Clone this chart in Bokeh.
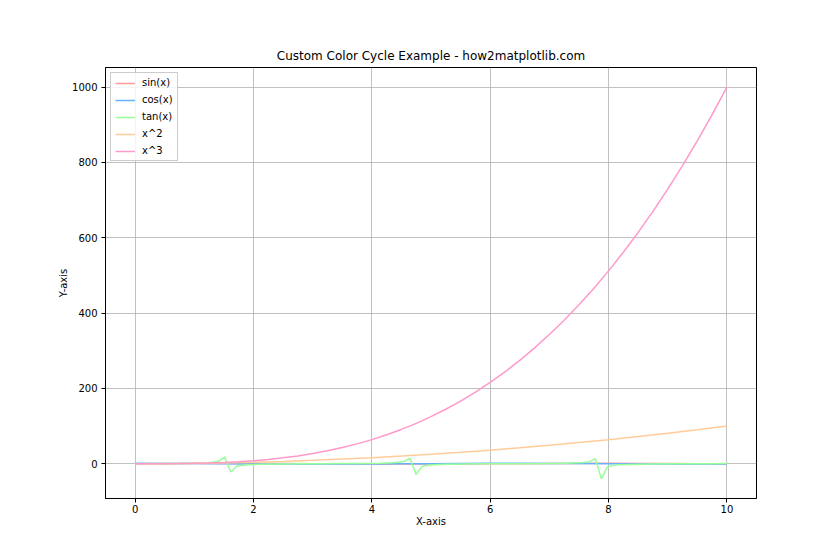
from bokeh.plotting import figure
from bokeh.models import Range1d, FixedTicker, Legend, LegendItem
from bokeh.embed import file_html
from bokeh.resources import INLINE

# ---- data ----
x_smooth = [0, 0.5, 1, 1.5, 2, 2.5, 3, 3.5, 4, 4.5, 5, 5.5, 6, 6.5, 7, 7.5, 8, 8.5, 9, 9.5, 10]
sin_vals = [0, 0.48, 0.84, 1.0, 0.91, 0.6, 0.14, -0.35, -0.76, -0.98, -0.96, -0.71, -0.28,
            0.22, 0.66, 0.94, 0.99, 0.80, 0.41, -0.08, -0.54]
cos_vals = [1, 0.88, 0.54, 0.07, -0.42, -0.80, -0.99, -0.94, -0.65, -0.21, 0.28, 0.71, 0.96,
            0.98, 0.75, 0.35, -0.15, -0.60, -0.91, -1.0, -0.84]
sq_vals = [0, 0.25, 1, 2.25, 4, 6.25, 9, 12.25, 16, 20.25, 25, 30.25, 36, 42.25, 49, 56.25,
           64, 72.25, 81, 90.25, 100]

x_cube = [0, 0.25, 0.5, 0.75, 1, 1.25, 1.5, 1.75, 2, 2.25, 2.5, 2.75, 3, 3.25, 3.5, 3.75,
          4, 4.25, 4.5, 4.75, 5, 5.25, 5.5, 5.75, 6, 6.25, 6.5, 6.75, 7, 7.25, 7.5, 7.75,
          8, 8.25, 8.5, 8.75, 9, 9.25, 9.5, 9.75, 10]
cube_vals = [0, 0.02, 0.125, 0.42, 1, 1.95, 3.375, 5.36, 8, 11.4, 15.6, 20.8, 27, 34.3,
             42.9, 52.7, 64, 76.8, 91.1, 107.2, 125, 144.7, 166.4, 190.1, 216, 244.1, 274.6,
             307.5, 343, 381.1, 421.9, 465.5, 512, 561.5, 614.1, 669.9, 729, 791.5, 857.4,
             926.9, 1000]

x_tan = [0, 0.303, 0.606, 0.909, 1.111, 1.212, 1.313, 1.414, 1.515, 1.616, 1.717, 1.818,
         1.919, 2.121, 2.424, 2.828, 3.131, 3.434, 3.838, 4.141, 4.343, 4.444, 4.545, 4.646,
         4.747, 4.848, 4.949, 5.051, 5.253, 5.556, 5.960, 6.263, 6.566, 6.970, 7.273, 7.475,
         7.576, 7.677, 7.778, 7.879, 7.980, 8.081, 8.182, 8.384, 8.687, 9.091, 9.394, 9.697, 10]
tan_vals = [0, 0.31, 0.70, 1.29, 2.0, 2.67, 3.79, 6.33, 17.97, -22.0, -6.78, -3.94,
            -2.75, -1.63, -0.87, -0.32, -0.01, 0.30, 0.84, 1.56, 2.58, 3.64, 5.94, 15.1,
            -28.5, -7.3, -4.13, -2.84, -1.66, -0.89, -0.34, -0.02, 0.29, 0.82, 1.53, 2.51,
            3.50, 5.59, 13.1, -40.3, -7.9, -4.31, -2.94, -1.70, -0.91, -0.35, -0.03, 0.28, 0.65]

labels = ["sin(x)", "cos(x)", "tan(x)", "x^2", "x^3"]
colors = ["#FF9999", "#66B2FF", "#99FF99", "#FFCC99", "#FF99CC"]
x_ticks = [0, 2, 4, 6, 8, 10]
y_ticks = [0, 200, 400, 600, 800, 1000]

FONT = "DejaVu Sans"

p = figure(width=824, height=544, output_backend="svg", toolbar_location=None,
           x_range=Range1d(-0.5, 10.5), y_range=Range1d(-92.3, 1052.0),
           title="Custom Color Cycle Example - how2matplotlib.com",
           min_border_left=105, min_border_right=68, min_border_top=67, min_border_bottom=46)
p.frame_width = 651
p.frame_height = 431

p.title.align = "center"
p.title.text_font = FONT
p.title.text_font_size = "12px"
p.title.text_font_style = "normal"
p.title.text_color = "black"

series = [(x_smooth, sin_vals), (x_smooth, cos_vals), (x_tan, tan_vals),
          (x_smooth, sq_vals), (x_cube, cube_vals)]
items = []
for (xs, ys), lab, col in zip(series, labels, colors):
    r = p.line(xs, ys, line_color=col, line_width=1.5)
    items.append(LegendItem(label=lab, renderers=[r]))

legend = Legend(items=items, location="top_left")
legend.label_text_font = FONT
legend.label_text_font_size = "10px"
legend.label_text_color = "black"
legend.glyph_width = 20
legend.glyph_height = 10
legend.label_height = 10
legend.spacing = 6
legend.padding = 4
legend.margin = 5
legend.border_line_color = "#cccccc"
legend.border_line_alpha = 1.0
legend.background_fill_alpha = 0.8
legend.label_standoff = 7
p.add_layout(legend)

for ax, ticks, lab in ((p.xaxis[0], x_ticks, "X-axis"), (p.yaxis[0], y_ticks, "Y-axis")):
    ax.ticker = FixedTicker(ticks=ticks)
    ax.axis_label = lab
    ax.axis_label_text_font = FONT
    ax.axis_label_text_font_size = "10px"
    ax.axis_label_text_font_style = "normal"
    ax.axis_label_text_color = "black"
    ax.major_label_text_font = FONT
    ax.major_label_text_font_size = "10px"
    ax.major_label_text_color = "black"
    ax.axis_line_color = "black"
    ax.major_tick_line_color = "black"
    ax.major_tick_out = 4
    ax.major_tick_in = 0
    ax.minor_tick_line_color = None
    ax.axis_label_standoff = 0

p.xaxis[0].major_label_standoff = 2
p.yaxis[0].major_label_standoff = 4
p.yaxis[0].major_label_orientation = "horizontal"

p.grid.grid_line_color = "#b0b0b0"
p.grid.grid_line_width = 0.8
p.outline_line_color = "black"
p.outline_line_alpha = 1.0
p.background_fill_color = "white"
p.border_fill_color = "white"

open("out.html", "w").write(file_html(p, INLINE))
